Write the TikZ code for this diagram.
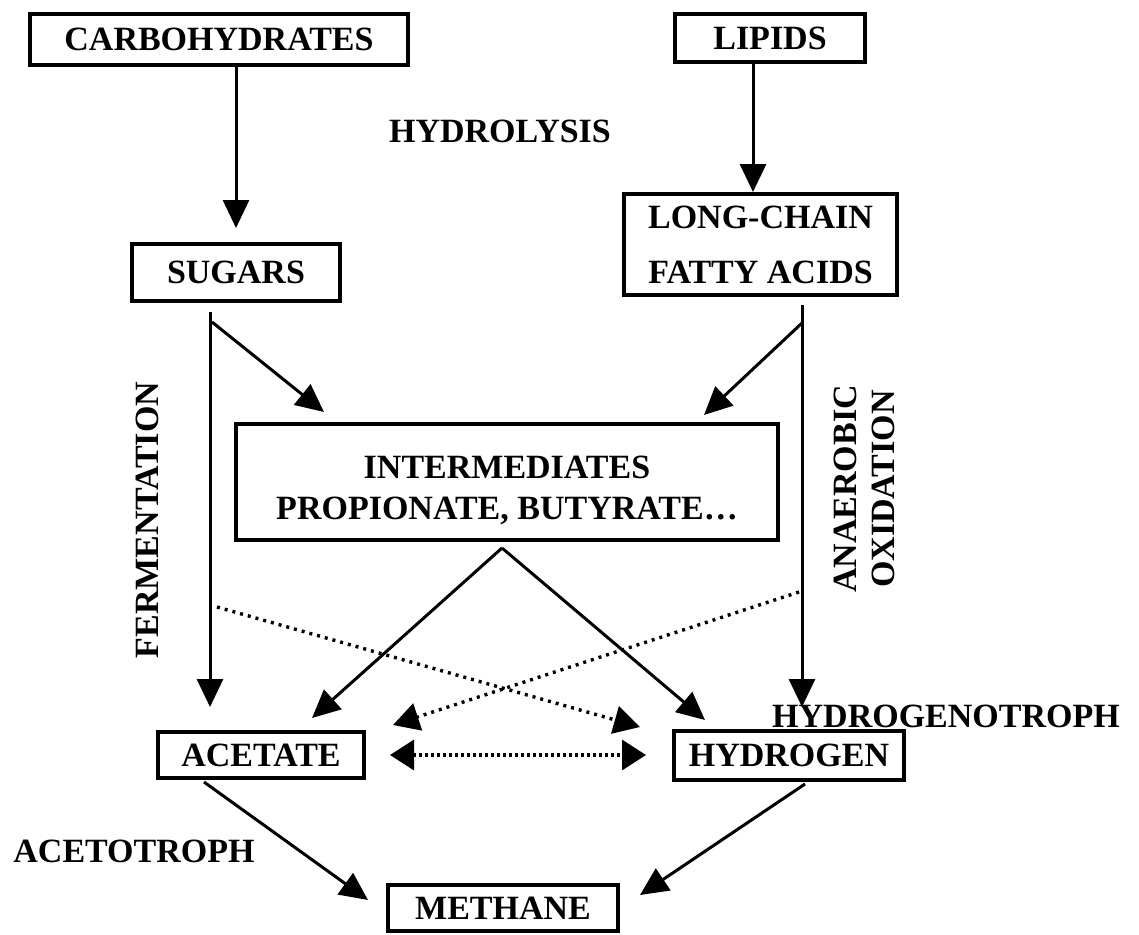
\documentclass[tikz,border=0pt]{standalone}
\usepackage{fontspec}
\setmainfont{Liberation Serif}
\usetikzlibrary{arrows.meta}
\newcommand\labfont{\fontsize{34}{41}\selectfont\bfseries}
\begin{document}
\begin{tikzpicture}[x=1pt,y=-1pt,
  box/.style={draw,line width=4pt,inner sep=0pt,font=\labfont,align=center},
  lbl/.style={font=\labfont,inner sep=0pt},
  arr/.style={line width=3pt,-{Triangle[length=28pt,width=26pt]}},
  dotarr/.style={line width=3.4pt,dash pattern=on 3pt off 5pt,-{Triangle[length=26pt,width=28pt]}},
  dotdbl/.style={line width=3.4pt,dash pattern=on 3pt off 3pt,{Triangle[length=24pt,width=30pt]}-{Triangle[length=24pt,width=30pt]}}]
\useasboundingbox (0,0) rectangle (1139,934);

% boxes
\node[box,minimum width=378pt,minimum height=51pt] (carb) at (219,39.5) {CARBOHYDRATES};
\node[box,minimum width=190pt,minimum height=48pt] (lipids) at (770,38) {LIPIDS};
\node[box,minimum width=208pt,minimum height=57pt] (sugars) at (236,272.5) {SUGARS};
\node[box,minimum width=273pt,minimum height=101pt] (lcfa) at (760.5,244.5) {LONG-CHAIN\\[14pt]FATTY ACIDS};
\node[box,minimum width=542pt,minimum height=116pt] (inter) at (507,482) {\rule{0pt}{39pt}INTERMEDIATES\\PROPIONATE, BUTYRATE\ldots};
\node[box,minimum width=206pt,minimum height=46pt] (acetate) at (261,755) {ACETATE};
\node[box,minimum width=230pt,minimum height=49pt] (hydrogen) at (789,755.5) {HYDROGEN};
\node[box,minimum width=230pt,minimum height=46pt] (methane) at (503,908) {METHANE};

% labels
\node[lbl] (hydrolysis) at (500,131) {HYDROLYSIS};
\node[lbl,rotate=90] (ferm) at (147,520) {FERMENTATION};
\node[lbl,rotate=90,align=center] (anox) at (864,489) {ANAEROBIC\\[-3pt]OXIDATION};
\node[lbl] (hgt) at (946,716) {HYDROGENOTROPH};
\node[lbl] (act) at (134,851) {ACETOTROPH};

% hydrolysis arrows
\draw[arr,shorten >=14pt] (carb.south -| sugars.north) -- (sugars.north);
\draw[arr] ([xshift=-17pt]lipids.south) -- ([xshift=-17pt]lipids.south |- lcfa.north);

% fermentation branch
\coordinate (sv) at ([xshift=-26pt,yshift=-9pt]sugars.south);
\coordinate (sb) at ([xshift=-24pt,yshift=-19pt]sugars.south);
\draw[arr,shorten >=23pt] (sv) -- (sv |- acetate.north);
\draw[arr] (sb) -- ([xshift=90pt,yshift=10pt]inter.north west);

% anaerobic oxidation branch
\coordinate (lv) at ([xshift=41.5pt,yshift=-8pt]lcfa.south);
\coordinate (lb) at ([xshift=41.5pt,yshift=-26pt]lcfa.south);
\draw[arr,shorten >=22pt] (lv) -- (lv |- hydrogen.north);
\draw[arr] (lb) -- ([xshift=-76pt,yshift=7pt]inter.north east);

% intermediates to acetate / hydrogen
\coordinate (apex) at ([xshift=-5pt,yshift=-6pt]inter.south);
\draw[arr] (apex) -- ([xshift=51pt,yshift=12pt]acetate.north);
\draw[arr] (apex) -- ([xshift=33pt,yshift=9pt]hydrogen.north west);

% dotted connectors
\coordinate (d1) at ([xshift=-19pt,yshift=-304pt]sugars.south);
\coordinate (d2) at ([xshift=38.5pt,yshift=-295pt]lcfa.south);
\draw[dotarr] (d1) -- ([xshift=-32pt,yshift=2pt]hydrogen.north west);
\draw[dotarr] (d2) -- ([xshift=27pt,yshift=5pt]acetate.north east);
\draw[dotdbl] ([xshift=24pt]acetate.east) -- ([xshift=-26pt]acetate.east -| hydrogen.west);

% methanogenesis
\draw[arr] ([xshift=-57pt,yshift=-2pt]acetate.south) -- ([xshift=-18pt,yshift=-17pt]methane.north west);
\draw[arr] ([xshift=16pt,yshift=-2pt]hydrogen.south) -- ([xshift=20pt,yshift=-12pt]methane.north east);
\end{tikzpicture}
\end{document}
